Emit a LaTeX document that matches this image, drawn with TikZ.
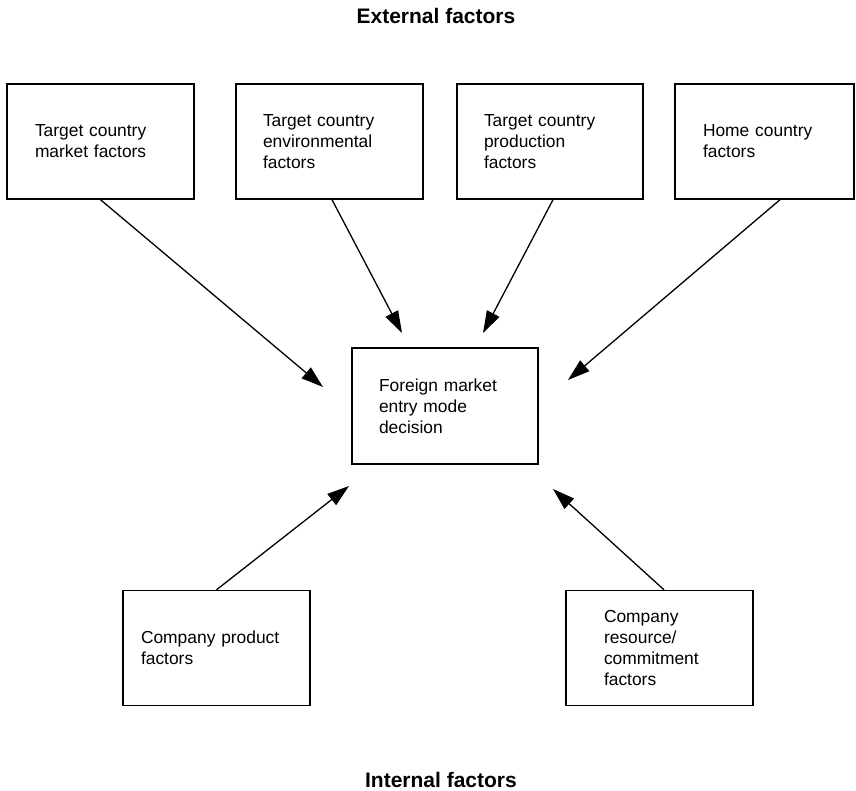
\documentclass[tikz,border=0pt]{standalone}
\usepackage{fontspec}
\setmainfont{Liberation Sans}
\usetikzlibrary{arrows.meta}
\begin{document}
\begin{tikzpicture}[x=1pt,y=-1pt,
  factorbox/.style={draw,line width=1.4pt,inner sep=0pt,minimum height=115pt,
    align=left,font=\fontsize{17.4}{21}\selectfont},
  title/.style={font=\fontsize{21}{25}\selectfont\bfseries,anchor=base},
  conn/.style={line width=1.3pt,-{Triangle[length=22pt,width=14pt]}}]
\useasboundingbox (0,0) rectangle (856,791);
\node[title] (ext) at (436,23.5) {External factors};
\node[title] (int) at (441,787) {Internal factors};
\node[factorbox,minimum width=187pt,text width=131pt] (b1) at (100.5,141.5) {Target country\\market factors};
\node[factorbox,minimum width=187pt,text width=133pt] (b2) at (329.5,141.5) {Target country\\environmental\\factors};
\node[factorbox,minimum width=186pt,text width=132pt] (b3) at (550,141.5) {Target country\\production\\factors};
\node[factorbox,minimum width=179pt,text width=123pt] (b4) at (764.5,141.5) {Home country\\factors};
\node[factorbox,minimum width=186pt,minimum height=116pt,text width=132pt] (c) at (445,406) {Foreign market\\entry mode\\decision};
\node[factorbox,minimum width=187pt,text width=151pt] (bl) at (216.5,648) {Company product\\factors};
\node[factorbox,minimum width=187pt,text width=111pt] (br) at (659.5,648) {Company\\resource/\\commitment\\factors};
\coordinate (t1) at (323,387);
\coordinate (t2) at (402,333);
\coordinate (t3) at (483,333);
\coordinate (t4) at (568,380);
\coordinate (t5) at (349,486);
\coordinate (t6) at (553,489);
\draw[conn] (b1.south) -- (t1);
\draw[conn] ([xshift=2.5pt]b2.south) -- (t2);
\draw[conn] ([xshift=3pt]b3.south) -- (t3);
\draw[conn] ([xshift=15.5pt]b4.south) -- (t4);
\draw[conn] (bl.north) -- (t5);
\draw[conn] ([xshift=4.5pt]br.north) -- (t6);
\end{tikzpicture}
\end{document}
